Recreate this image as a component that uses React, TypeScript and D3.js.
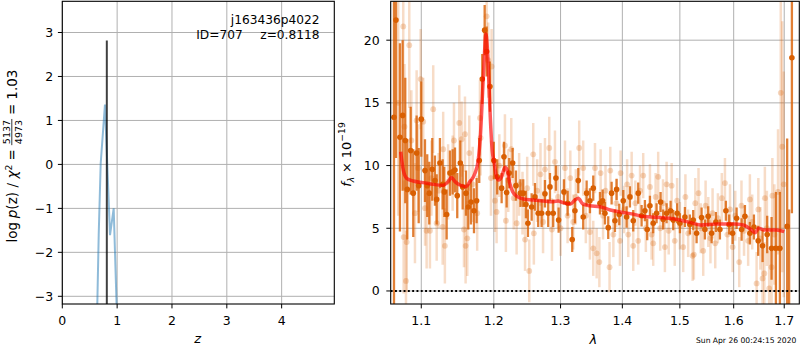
import React, { useEffect, useRef } from 'react';
import * as d3 from 'd3';

const FONT = 'DejaVu Sans, sans-serif';

// ---- left panel: log p(z)
const zTicks = [0, 1, 2, 3, 4];
const pzTicks = [-3, -2, -1, 0, 1, 2, 3];
const pzZ = [0.62, 0.638, 0.664, 0.7, 0.778, 0.87, 0.937, 0.99, 1.01];
const pzLog = [-4.2, -3.2, -1.6, 0.02, 1.36, -1.61, -1.0, -3.2, -4.2];
const zBest = 0.8118;
const zBestTop = 2.82;

// ---- right panel: spectrum
const lamTicks = [1.1, 1.2, 1.3, 1.4, 1.5, 1.6, 1.7];
const fluxTicks = [0, 5, 10, 15, 20];

const darkLam = [
  1.0646, 1.0671, 1.0722, 1.0757, 1.0791, 1.0817, 1.0861, 1.0895, 1.0939, 1.0966,
  1.1, 1.1049, 1.1079, 1.1106, 1.1146, 1.1182, 1.1205, 1.1249, 1.1286, 1.1308,
  1.134, 1.1385, 1.1422, 1.1454, 1.1485, 1.1527, 1.156, 1.1606, 1.1638, 1.1675,
  1.1718, 1.1755, 1.1792, 1.1835, 1.1869, 1.1897, 1.1944,
  1.2, 1.2049, 1.2113, 1.2147, 1.2186, 1.2224, 1.2274, 1.2323, 1.239, 1.2431,
  1.2471, 1.2501, 1.2557, 1.2607, 1.2656, 1.2708, 1.2759, 1.2809, 1.2836, 1.2886,
  1.2928, 1.297, 1.3053, 1.3111, 1.3183, 1.3226, 1.3279, 1.3358, 1.3413, 1.3466,
  1.352,
  1.3629, 1.3673, 1.3711, 1.3765, 1.3821, 1.3876, 1.3904, 1.3948, 1.4015, 1.4072,
  1.4128, 1.4184, 1.4269, 1.4327, 1.4384, 1.4424, 1.4471, 1.4528, 1.4587, 1.4657,
  1.4703, 1.4763, 1.4834, 1.4881, 1.4952, 1.5001, 1.5091, 1.5181,
  1.5242, 1.5304, 1.5396, 1.5457, 1.5518, 1.5582, 1.5662, 1.5738, 1.5851, 1.5914,
  1.5979, 1.6056, 1.6153, 1.6217, 1.6314, 1.6393, 1.6477, 1.6564, 1.6656, 1.6744,
  1.6831, 1.6912, 1.706, 1.71, 1.7157,
];
const darkFlux = [
  13.85, 21.6, 12.25, 14.0, 12.0, 8.1, 11.2, 7.8, 11.0, 8.4,
  13.7, 9.6, 8.4, 7.8, 9.7, 8.8, 7.3, 10.2, 8.5, 7.9,
  6.1, 9.4, 9.5, 9.65, 7.6, 10.2, 8.3, 7.8, 6.7, 7.1,
  6.4, 7.2, 10.4, 16.9, 20.8, 19.1, 16.3,
  10.4, 9.1, 8.2, 10.7, 7.85, 9.4, 10.2, 8.4, 7.8, 7.8,
  6.9, 5.4, 6.7, 7.5, 6.2, 6.2, 7.75, 6.2, 8.3, 6.2,
  9.0, 5.65, 7.9, 7.0, 4.1, 6.4, 8.8, 5.9, 7.8, 7.2,
  8.2,
  7.0, 7.2, 6.2, 5.05, 7.8, 5.6, 8.1, 6.1, 7.2, 5.9,
  7.5, 5.6, 7.8, 6.0, 6.4, 4.9, 6.8, 5.4, 6.2, 7.1,
  5.7, 6.2, 6.4, 5.65, 6.2, 5.4, 5.9, 5.3,
  5.65, 4.6, 5.85, 4.9, 5.95, 4.6, 5.5, 4.9, 6.4, 5.3,
  4.6, 5.8, 4.9, 5.95, 4.6, 5.1, 4.0, 3.6, 4.5, 3.4,
  3.4, 3.4, 5.15, 2.0, 18.6,
];
const darkErr = [
  20, 11, 7.5, 6, 5, 4, 3.5, 3.5, 3, 3,
  3, 2.5, 2.5, 2.5, 2.5, 2, 2, 2, 2, 2,
  2, 1.8, 1.8, 1.8, 1.8, 1.8, 1.8, 1.8, 1.8, 1.8,
  1.8, 1.8, 1.8, 2, 2, 2, 2,
  1.5, 1.4, 1.2, 1.2, 1.2, 1.2, 1.2, 1.2, 1.1, 1.1,
  1.1, 1.1, 1.1, 1.1, 1.1, 1.1, 1.1, 1.1, 1.1, 1.1,
  1.0, 1.0, 1.0, 1.0, 1.0, 1.0, 1.0, 1.0, 1.0, 1.0,
  1.0,
  0.9, 0.9, 0.9, 0.9, 0.9, 0.9, 0.85, 0.85, 0.85, 0.85,
  0.85, 0.85, 0.85, 0.85, 0.85, 0.85, 0.8, 0.8, 0.8, 0.8,
  0.8, 0.8, 0.8, 0.8, 0.8, 0.8, 0.8, 0.8,
  0.8, 0.8, 0.8, 0.8, 0.8, 0.8, 0.8, 0.8, 0.8, 0.8,
  0.85, 0.85, 0.9, 0.9, 0.9, 1.0, 1.2, 1.3, 1.5, 2.5,
  4.5, 4.5, 7.0, 4.5, 12.4,
];

const lightLam = [
  1.07, 1.0765, 1.0781, 1.08, 1.0809, 1.077, 1.0843, 1.087, 1.0917, 1.0939,
  1.096, 1.0992, 1.1026, 1.105, 1.1071, 1.1115, 1.1135, 1.1159, 1.1205, 1.123,
  1.1286, 1.1293, 1.1316, 1.136, 1.1422, 1.144, 1.1513, 1.1546, 1.1578, 1.1592,
  1.1601, 1.1624, 1.1652, 1.17, 1.1763, 1.1802, 1.1811, 1.1897, 1.192, 1.1959,
  1.1968,
  1.2016, 1.204, 1.208, 1.2161, 1.2175, 1.221, 1.2254, 1.229, 1.2333, 1.237,
  1.242, 1.2458, 1.249, 1.2521, 1.2581, 1.259, 1.264, 1.2691, 1.273, 1.2759,
  1.2825, 1.2866, 1.2913, 1.296, 1.3, 1.3069, 1.311, 1.3153, 1.32, 1.324,
  1.3294, 1.3358, 1.34, 1.3466, 1.352, 1.3548,
  1.3575, 1.3619, 1.364, 1.368, 1.372, 1.3787, 1.3799, 1.385, 1.39, 1.396,
  1.3971, 1.403, 1.408, 1.41, 1.4157, 1.4184, 1.422, 1.4269, 1.43, 1.4355,
  1.44, 1.4471, 1.45, 1.4528, 1.457, 1.4615, 1.465, 1.47, 1.4733, 1.4763,
  1.48, 1.4853, 1.4908, 1.495, 1.5, 1.506, 1.51, 1.515, 1.5231,
  1.5254, 1.528, 1.5339, 1.538, 1.5426, 1.547, 1.552, 1.556, 1.56, 1.565,
  1.57, 1.5774, 1.5833, 1.588, 1.593, 1.598, 1.603, 1.6107, 1.615, 1.62,
  1.628, 1.6314, 1.636, 1.6446, 1.648, 1.652, 1.6564, 1.6599, 1.661, 1.665,
  1.6696, 1.6744, 1.676, 1.68, 1.6874, 1.693, 1.696, 1.699,
];
const lightFlux = [
  15.0, 21.1, 13.1, 0.8, 3.9, 4.3, 19.6, 12.0, 6.2, 13.6,
  9.8, 16.9, 13.5, 6.6, 4.8, 4.8, 9.0, 14.5, 5.4, 8.0,
  5.1, 11.3, 3.6, 8.7, 9.4, 12.0, 13.4, 12.1, 4.9, 12.5,
  3.6, 4.2, 11.0, 8.5, 6.2, 13.8, 12.2, 21.9, 18.4, 9.0,
  17.9,
  7.2, 6.3, 10.0, 11.6, 5.6, 8.8, 11.3, 7.4, 5.4, 8.5,
  7.0, 4.1, 8.2, 1.6, 10.9, 4.6, 8.0, 9.3, 5.5, 9.7,
  11.4, 4.9, 10.3, 7.5, 5.0, 9.8, 6.0, 9.0, 5.5, 7.5,
  11.4, 9.8, 6.0, 4.7, 3.4, 9.8,
  3.0, 2.3, 9.4, 6.0, 8.0, 1.9, 9.6, 4.5, 7.0, 4.0,
  9.4, 6.5, 8.5, 4.5, 9.2, 3.6, 7.0, 4.0, 8.0, 9.2,
  5.0, 8.3, 4.5, 3.8, 7.5, 9.1, 5.0, 7.0, 3.5, 8.5,
  4.8, 8.4, 4.0, 7.2, 5.2, 3.5, 7.5, 4.6, 2.8,
  2.9, 7.0, 7.8, 5.0, 3.2, 6.8, 5.5, 4.2, 6.2, 3.8,
  5.8, 7.4, 8.6, 4.5, 6.5, 3.5, 6.0, 2.3, 6.8, 4.8,
  4.0, 7.3, 5.5, 0.6, 6.5, 4.2, 1.0, 1.4, 7.4, 5.0,
  0.2, 1.9, 7.6, 4.5, 7.9, 15.8, 11.5, 8.5,
];
const lightErr = [
  9, 6, 5, 4, 4, 4.5, 5, 4, 4, 4,
  3.5, 4, 3.5, 3, 3, 3, 3, 3.5, 3, 3,
  3, 3, 3, 3, 3, 3, 3, 3, 3, 3,
  3, 3, 3, 3, 3, 3, 3, 3, 3, 3,
  3,
  2.5, 2.5, 2.5, 2.5, 2.5, 2.5, 2.5, 2.5, 2.5, 2.5,
  2.5, 2.5, 2.5, 2.5, 2.5, 2.5, 2.5, 2.5, 2.5, 2.5,
  2.5, 2.5, 2.5, 2.5, 2.2, 2.2, 2.2, 2.2, 2.2, 2.2,
  2.2, 2.2, 2.2, 2.2, 2.2, 2.0,
  2.0, 2.0, 1.9, 1.9, 2.0, 2.0, 1.9, 1.8, 1.9, 2.0,
  1.8, 1.9, 2.0, 1.8, 1.9, 2.0, 1.8, 1.9, 2.0, 1.8,
  1.9, 1.8, 2.0, 1.8, 1.9, 2.0, 1.8, 1.9, 2.0, 1.8,
  1.9, 1.8, 2.0, 1.8, 1.9, 2.0, 1.8, 1.9, 2.0,
  2, 2, 2, 2, 2, 2, 2, 2, 2, 2,
  2, 2, 2, 2, 2, 2, 2, 2, 2, 2,
  2, 2, 2.2, 2.5, 2.5, 2.5, 2.5, 2.5, 2.5, 3,
  3, 3, 3, 4, 5, 11, 10, 9,
];

const modelLam = [
  1.0732, 1.0765, 1.0809, 1.0895, 1.1026, 1.1159, 1.1293, 1.136, 1.1404, 1.1454,
  1.152, 1.1606, 1.1661, 1.1732, 1.1778, 1.1811, 1.1839, 1.1869, 1.1885, 1.1903,
  1.1926, 1.1949, 1.1977, 1.2, 1.2036, 1.2068, 1.2113, 1.2161, 1.2193, 1.2229,
  1.2274, 1.2344, 1.2431, 1.2581, 1.2733, 1.2886, 1.2965, 1.3036, 1.3153, 1.3226,
  1.3279, 1.335, 1.3466, 1.3629, 1.3799, 1.396, 1.4184, 1.4355, 1.4587, 1.4815,
  1.5001, 1.5181, 1.5376, 1.5675, 1.6, 1.6184, 1.6347, 1.6417, 1.6485, 1.6599,
  1.6845, 1.7,
];
const modelFlux = [
  11.1, 9.65, 8.98, 8.77, 8.64, 8.5, 8.43, 8.72, 9.04, 8.72,
  8.45, 8.32, 8.72, 9.38, 10.45, 12.6, 15.8, 19.2, 20.5, 19.75,
  17.1, 13.9, 11.2, 10.4, 9.17, 8.85, 9.12, 9.86, 9.65, 8.64,
  7.92, 7.52, 7.34, 7.26, 7.18, 7.12, 7.18, 7.04, 6.94, 7.25,
  7.39, 6.94, 6.8, 6.72, 6.46, 6.3, 6.13, 5.93, 5.87, 5.79,
  5.66, 5.47, 5.26, 5.34, 5.34, 5.26, 4.86, 4.65, 5.0, 4.86,
  4.86, 4.73,
];

const ORANGE = '#d95f02';

type Piece = { t?: string; italic?: boolean; size?: number; dy?: number; gap?: number; frac?: [string, string] };

function mathLabel(parent: any, pieces: Piece[], bx: number, cy: number, base: number) {
  const outer = parent.append('g').attr('transform', `translate(${bx},${cy}) rotate(-90)`);
  const g = outer.append('g');
  let x = 0;
  pieces.forEach((p) => {
    if (p.gap) { x += p.gap; return; }
    if (p.frac) {
      const s = p.size || 9.2;
      const a = g.append('text').attr('y', -6.7).attr('font-size', s).attr('text-anchor', 'middle').text(p.frac[0]);
      const b = g.append('text').attr('y', 4.6).attr('font-size', s).attr('text-anchor', 'middle').text(p.frac[1]);
      const w = Math.max(a.node().getComputedTextLength(), b.node().getComputedTextLength()) + 2;
      a.attr('x', x + w / 2);
      b.attr('x', x + w / 2);
      g.append('line').attr('x1', x).attr('x2', x + w).attr('y1', -5.2).attr('y2', -5.2)
        .attr('stroke', '#000').attr('stroke-width', 0.8);
      x += w;
      return;
    }
    const el = g.append('text').attr('x', x).attr('y', p.dy || 0)
      .attr('font-size', p.size || base)
      .attr('font-style', p.italic ? 'italic' : 'normal')
      .text(p.t);
    x += el.node().getComputedTextLength();
  });
  g.attr('transform', `translate(${-x / 2},0)`);
}

function drawFrame(g: any, box: any, x: any, y: any, xt: number[], yt: number[], fx: (v: number) => string, fy: (v: number) => string, yPad: number) {
  const grid = g.append('g').attr('stroke', '#b0b0b0').attr('stroke-width', 1);
  xt.forEach((v) => grid.append('line').attr('x1', x(v)).attr('x2', x(v)).attr('y1', box.t).attr('y2', box.b));
  yt.forEach((v) => grid.append('line').attr('x1', box.l).attr('x2', box.r).attr('y1', y(v)).attr('y2', y(v)));
  const tk = g.append('g').attr('font-family', FONT).attr('font-size', 12.5).attr('fill', '#000');
  xt.forEach((v) => {
    tk.append('line').attr('x1', x(v)).attr('x2', x(v)).attr('y1', box.b).attr('y2', box.b + 4.4).attr('stroke', '#000');
    tk.append('text').attr('x', x(v)).attr('y', 325).attr('text-anchor', 'middle').text(fx(v));
  });
  yt.forEach((v) => {
    tk.append('line').attr('x1', box.l - 4.4).attr('x2', box.l).attr('y1', y(v)).attr('y2', y(v)).attr('stroke', '#000');
    tk.append('text').attr('x', box.l - yPad).attr('y', y(v)).attr('dy', '0.36em').attr('text-anchor', 'end').text(fy(v));
  });
}

function frameBorder(g: any, box: any) {
  g.append('rect').attr('x', box.l).attr('y', box.t).attr('width', box.r - box.l).attr('height', box.b - box.t)
    .attr('fill', 'none').attr('stroke', '#000').attr('stroke-width', 1.1);
}

export default function App() {
  const ref = useRef<SVGSVGElement>(null);

  useEffect(() => {
    const svg = d3.select(ref.current);
    svg.selectAll('*').remove();
    svg.attr('font-family', FONT);

    const L = { l: 62.3, r: 334.3, t: 1.3, b: 304 };
    const R = { l: 390.7, r: 799.3, t: 1.3, b: 304 };

    const defs = svg.append('defs');
    defs.append('clipPath').attr('id', 'clipL').append('rect')
      .attr('x', L.l).attr('y', L.t).attr('width', L.r - L.l).attr('height', L.b - L.t);
    defs.append('clipPath').attr('id', 'clipR').append('rect')
      .attr('x', R.l).attr('y', R.t).attr('width', R.r - R.l).attr('height', R.b - R.t);

    // ---------- left panel
    const xL = d3.scaleLinear().domain([0, 4.96]).range([L.l, L.r]);
    const yL = d3.scaleLinear().domain([-3.175, 3.71]).range([L.b, L.t]);
    const gL = svg.append('g');
    const minus = (v: number) => (v < 0 ? '\u2212' + Math.abs(v) : String(v));
    drawFrame(gL, L, xL, yL, zTicks, pzTicks, (v) => String(v), minus, 9);

    const dataL = gL.append('g').attr('clip-path', 'url(#clipL)');
    const pz = pzZ.map((z, i) => [z, pzLog[i]] as [number, number]);
    dataL.append('path')
      .attr('d', d3.line<[number, number]>().x((d) => xL(d[0])).y((d) => yL(d[1]))(pz))
      .attr('fill', 'none').attr('stroke', '#1f77b4').attr('stroke-opacity', 0.5).attr('stroke-width', 2);
    dataL.append('line')
      .attr('x1', xL(zBest)).attr('x2', xL(zBest)).attr('y1', yL(-4)).attr('y2', yL(zBestTop))
      .attr('stroke', '#000').attr('stroke-opacity', 0.75).attr('stroke-width', 2);
    frameBorder(gL, L);

    gL.append('text').attr('x', 319.5).attr('y', 24).attr('text-anchor', 'end').attr('font-size', 12.2).text('j163436p4022');
    gL.append('text').attr('x', 242.7).attr('y', 38.5).attr('text-anchor', 'end').attr('font-size', 12.2).text('ID=707');
    gL.append('text').attr('x', 319.5).attr('y', 38.5).attr('text-anchor', 'end').attr('font-size', 12.2).text('z=0.8118');
    gL.append('text').attr('x', 197.7).attr('y', 343).attr('text-anchor', 'middle').attr('font-size', 13)
      .attr('font-style', 'italic').text('z');
    mathLabel(gL, [
      { t: 'log' }, { gap: 3.6 }, { t: 'p', italic: true }, { t: '(z)' }, { gap: 4.5 }, { t: '/' }, { gap: 4.5 },
      { t: 'χ', italic: true }, { t: '2', size: 9.4, dy: -5.5 }, { gap: 4 }, { t: '=' }, { gap: 4 },
      { frac: ['5137', '4973'], size: 9.5 }, { gap: 4 }, { t: '=' }, { gap: 4 }, { t: '1.03' },
    ], 17, 156, 13.5);

    // ---------- right panel
    const xR = d3.scaleLog().domain([1.0604, 1.731]).range([R.l, R.r]);
    const yR = d3.scaleLinear().domain([-1.04, 23.1]).range([R.b, R.t]);
    const gR = svg.append('g');
    drawFrame(gR, R, xR, yR, lamTicks, fluxTicks, (v) => v.toFixed(1), (v) => String(v), 11);

    const dataR = gR.append('g').attr('clip-path', 'url(#clipR)');

    const light = dataR.append('g').attr('fill', ORANGE).attr('stroke', ORANGE);
    lightLam.forEach((l, i) => {
      light.append('line').attr('x1', xR(l)).attr('x2', xR(l))
        .attr('y1', yR(lightFlux[i] - lightErr[i])).attr('y2', yR(lightFlux[i] + lightErr[i]))
        .attr('stroke-width', 2.5).attr('stroke-opacity', 0.22);
      light.append('circle').attr('cx', xR(l)).attr('cy', yR(lightFlux[i])).attr('r', 2.9)
        .attr('stroke', 'none').attr('fill-opacity', 0.25);
    });

    const dark = dataR.append('g');
    darkLam.forEach((l, i) => {
      dark.append('line').attr('x1', xR(l)).attr('x2', xR(l))
        .attr('y1', yR(darkFlux[i] - darkErr[i])).attr('y2', yR(darkFlux[i] + darkErr[i]))
        .attr('stroke', ORANGE).attr('stroke-width', 2.3).attr('stroke-opacity', 0.8);
    });
    darkLam.forEach((l, i) => {
      if (l === 1.71) return;
      dark.append('circle').attr('cx', xR(l)).attr('cy', yR(darkFlux[i])).attr('r', 2.8).attr('fill', ORANGE);
    });

    dataR.append('line').attr('x1', R.l).attr('x2', R.r).attr('y1', yR(0)).attr('y2', yR(0))
      .attr('stroke', '#000').attr('stroke-width', 1.9).attr('stroke-dasharray', '1.9,2.4');

    const model = modelLam.map((l, i) => [l, modelFlux[i]] as [number, number]);
    dataR.append('path')
      .attr('d', d3.line<[number, number]>().x((d) => xR(d[0])).y((d) => yR(d[1])).curve(d3.curveMonotoneX)(model))
      .attr('fill', 'none').attr('stroke', '#ff0000').attr('stroke-opacity', 0.65).attr('stroke-width', 3.5);

    frameBorder(gR, R);

    gR.append('text').attr('x', 593.3).attr('y', 344).attr('text-anchor', 'middle').attr('font-size', 13)
      .attr('font-style', 'italic').text('λ');
    mathLabel(gR, [
      { t: 'f', italic: true }, { t: 'λ', italic: true, size: 9.2, dy: 3 }, { gap: 3.8 }, { t: '×' }, { gap: 3.8 },
      { t: '10' }, { t: '\u221219', size: 9.2, dy: -5.8 },
    ], 350.5, 154.5, 13);

    svg.append('text').attr('x', 696).attr('y', 342.5).attr('font-size', 7.6).text('Sun Apr 26 00:24:15 2020');
  }, []);

  return (
    <svg ref={ref} width={800} height={350}
      style={{ position: 'absolute', left: 0, top: 0, background: '#fff' }} />
  );
}
